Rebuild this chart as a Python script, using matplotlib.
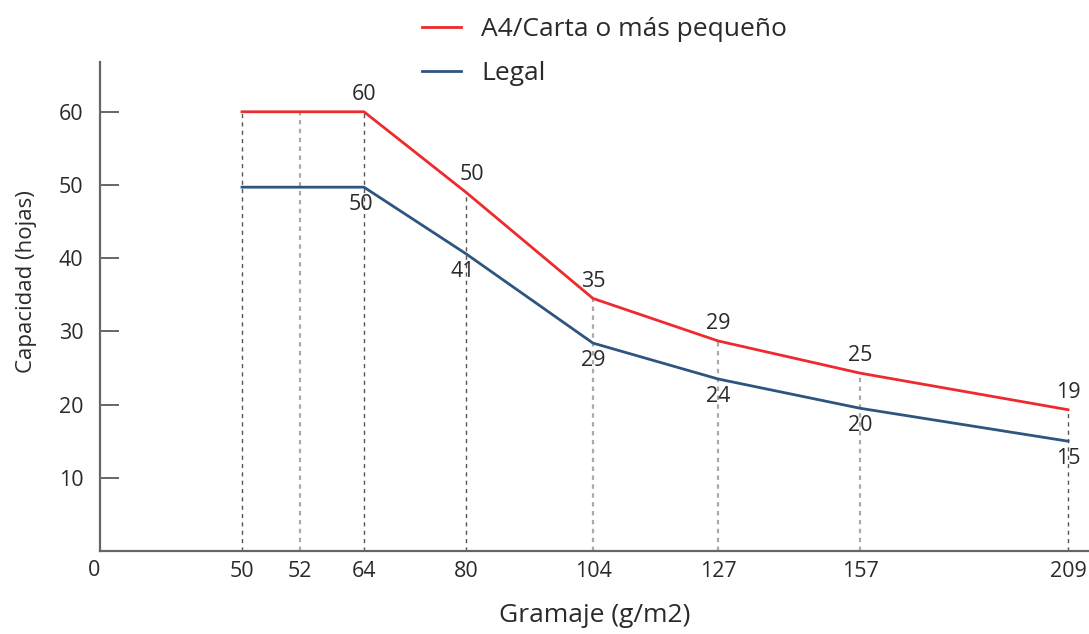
import numpy as np
import matplotlib
matplotlib.use("Agg")
import matplotlib.pyplot as plt

# data
gramaje = [50, 52, 64, 80, 104, 127, 157, 209]
capacidad_a4 = [60, 60, 60, 49, 34.5, 28.7, 24.3, 19.3]
capacidad_legal = [49.7, 49.7, 49.7, 40.6, 28.4, 23.5, 19.5, 15]
etiqueta_gramaje = [50, 52, 64, 80, 104, 127, 157, 209]
etiquetas_a4 = [(64, "60"), (80, "50"), (104, "35"), (127, "29"), (157, "25"), (209, "19")]
etiquetas_legal = [(64, "50"), (80, "41"), (104, "29"), (127, "24"), (157, "20"), (209, "15")]
series_names = ["A4/Carta o más pequeño", "Legal"]

RED = "#ee2a2e"
BLUE = "#2d557f"
GREY = "#2a2a2a"
AXC = "#666666"
NUM_FS = 15.5

# the x axis of the original is not linear: piecewise scale
brk_val = [0, 50, 52, 64, 80, 104, 127, 157, 209, 260]
brk_pos = [0, 142, 200, 264, 366, 493, 618, 760, 968, 1172]


def fwd(x):
    return np.interp(x, brk_val, brk_pos)


def inv(y):
    return np.interp(y, brk_pos, brk_val)


plt.rcParams['font.family'] = ['Open Sans', 'DejaVu Sans']

fig = plt.figure(figsize=(10.89, 6.34), dpi=100)
ax = fig.add_axes([100 / 1089, 83 / 634, 989 / 1089, 489 / 634])
ax.set_xscale('function', functions=(fwd, inv))
ax.set_xlim(0, 214.25)
ax.set_ylim(0, 66.8)

# vertical guide lines up to the top curve
light = {52, 104, 127, 157}
for g, v in zip(gramaje, capacidad_a4):
    if g in light:
        ax.vlines(g, 0, v, colors="#aaaaaa", linestyles=(0, (2, 2)), lw=1.6, zorder=1)
    else:
        ax.vlines(g, 0, v, colors="#555555", linestyles=(0, (3, 3)), lw=1.0, zorder=1)

ax.plot(gramaje, capacidad_a4, color=RED, lw=2.0, label=series_names[0], zorder=3)
ax.plot(gramaje, capacidad_legal, color=BLUE, lw=2.0, label=series_names[1], zorder=3)

a4_lookup = dict(zip(gramaje, capacidad_a4))
legal_lookup = dict(zip(gramaje, capacidad_legal))
for g, t in etiquetas_a4:
    dx = 4 if g == 80 else 0
    ax.annotate(t, (g, a4_lookup[g]), xytext=(dx, 5), textcoords='offset points',
                ha='center', va='bottom', fontsize=NUM_FS, color=GREY)
for g, t in etiquetas_legal:
    ax.annotate(t, (g, legal_lookup[g]), xytext=(-2 if g in (64, 80) else 0, -5),
                textcoords='offset points',
                ha='center', va='top', fontsize=NUM_FS, color=GREY)

# axes styling
for s in ['top', 'right']:
    ax.spines[s].set_visible(False)
for s in ['left', 'bottom']:
    ax.spines[s].set_color(AXC)
    ax.spines[s].set_linewidth(1.6)

ax.set_yticks([10, 20, 30, 40, 50, 60])
ax.tick_params(axis='y', direction='in', length=14, width=1.4, color=AXC,
               labelsize=NUM_FS, labelcolor=GREY, pad=12)
ax.set_xticks(etiqueta_gramaje)
ax.set_xticklabels([str(v) for v in etiqueta_gramaje])
ax.tick_params(axis='x', length=0, labelsize=NUM_FS, labelcolor=GREY, pad=7)
ax.text(-1.0, -1.2, "0", ha='right', va='top', fontsize=NUM_FS, color=GREY)

ax.set_xlabel("Gramaje (g/m2)", fontsize=19, color=GREY, labelpad=15)
ax.set_ylabel("Capacidad (hojas)", fontsize=16, color=GREY)
ax.yaxis.set_label_coords(-63 / 989, 0.55)

fig.legend(loc='upper left', bbox_to_anchor=(398 / 1089, 1.01), frameon=False,
           fontsize=19, handlelength=1.5, handletextpad=0.75, labelspacing=0.7,
           labelcolor=GREY)

fig.savefig("out.png", dpi=100)
